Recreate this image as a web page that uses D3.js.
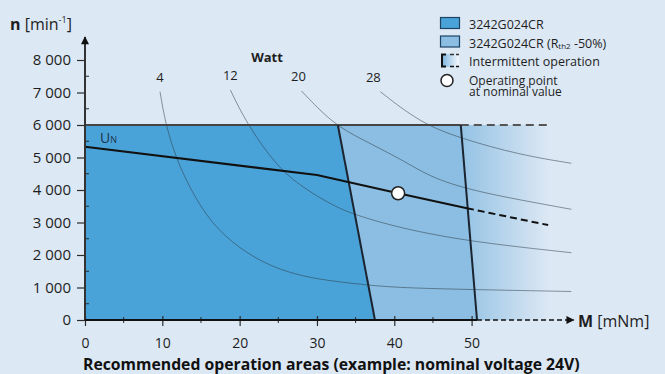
<!DOCTYPE html>
<html lang="en">
<head>
<meta charset="UTF-8">
<title>3242G024CR operation areas</title>
<script src="https://d3js.org/d3.v7.min.js"></script>
<style>
  body { margin: 0; background: #dce8f4; }
  svg { display: block; font-family: "Open Sans", sans-serif; }
</style>
</head>
<body>
<svg></svg>
<script>
var width = 665, height = 374;

// torque M [mNm] vs speed n [min-1]
var xTicks = [0, 10, 20, 30, 40, 50];
var xMinor = [5, 15, 25, 35, 45];
var yTicks = [0, 1000, 2000, 3000, 4000, 5000, 6000, 7000, 8000];
var yMinor = [500, 1500, 2500, 3500, 4500, 5500, 6500, 7500];

var continuousArea = [[0, 0], [0, 6000], [32.7, 6000], [37.5, 0]];
var extendedArea = [[32.7, 6000], [48.6, 6000], [50.7, 0], [37.5, 0]];
var speedLimit = [[0, 6000], [48.6, 6000]];
var speedLimitDashed = [[48.6, 6000], [60, 6000]];
var torqueDashed = [[50.7, 0], [63.2, 0]];

var speedLine = [[0, 5330], [30, 4460], [40.5, 3900], [49.4, 3440]];
var speedLineDashed = [[49.4, 3440], [59.9, 2920]];
var operatingPoint = [40.5, 3900];

// constant power curves
var wattLabels = [4, 12, 20, 28];
var watt4 = [[9.7, 7025], [10.4, 6050], [11.7, 5025], [13.6, 4030], [16.3, 2975], [19.9, 2206],
             [24.0, 1640], [28.3, 1332], [32.2, 1190], [36.4, 1077], [40.8, 990], [50.2, 935], [62.9, 877]];
var watt12 = [[18.8, 7077], [20.9, 6050], [24.8, 4717], [28.3, 4050], [32.1, 3520], [34.7, 3250],
              [40.8, 2822], [49.8, 2409], [62.9, 2071]];
var watt20 = [[28.0, 7046], [32.0, 6050], [35.6, 5580], [41.1, 4923], [44.6, 4400], [49.8, 4000],
              [56.3, 3692], [62.9, 3406]];
var watt28 = [[38.2, 7025], [43.3, 6077], [48.5, 5591], [56.3, 5077], [62.9, 4822]];
var wattCurves = [watt4, watt12, watt20, watt28];

var colors = {
    bg: "#dce8f4",
    dark: "#4aa3d8",
    light: "#8bbee2",
    edge: "#1b2430",
    axis: "#2b2b2b",
    text: "#1e1e1e"
};

var svg = d3.select("svg").attr("width", width).attr("height", height);
svg.append("rect").attr("width", width).attr("height", height).attr("fill", colors.bg);

var x = d3.scaleLinear().domain([0, 50]).range([85, 471.6]);
var y = d3.scaleLinear().domain([0, 6000]).range([320, 125]);

var defs = svg.append("defs");
var grad = defs.append("linearGradient").attr("id", "fade")
    .attr("gradientUnits", "userSpaceOnUse")
    .attr("x1", x(48.5)).attr("x2", x(60)).attr("y1", 0).attr("y2", 0);
grad.append("stop").attr("offset", "0%").attr("stop-color", "#93c2e4");
grad.append("stop").attr("offset", "100%").attr("stop-color", colors.bg);

var iconGrad = defs.append("linearGradient").attr("id", "iconFade");
iconGrad.append("stop").attr("offset", "0%").attr("stop-color", "#7fb6e0");
iconGrad.append("stop").attr("offset", "100%").attr("stop-color", "#f4f8fc");

defs.append("marker").attr("id", "arrow")
    .attr("viewBox", "0 0 10 10").attr("refX", 9).attr("refY", 5)
    .attr("markerWidth", 13).attr("markerHeight", 8).attr("markerUnits", "userSpaceOnUse")
    .attr("orient", "auto")
    .append("path").attr("d", "M0,0 L10,5 L0,10 Z").attr("fill", "#111");

var line = d3.line().x(function (d) { return x(d[0]); }).y(function (d) { return y(d[1]); });

// intermittent fade behind the areas
svg.append("rect")
    .attr("x", x(47)).attr("y", y(6000))
    .attr("width", x(60) - x(47)).attr("height", y(0) - y(6000))
    .attr("fill", "url(#fade)");

svg.append("path").datum(extendedArea).attr("d", line.curve(d3.curveLinearClosed))
    .attr("fill", colors.light);
svg.append("path").datum(continuousArea).attr("d", line)
    .attr("fill", colors.dark);
line.curve(d3.curveLinear);

// power curves
var curveLine = d3.line()
    .x(function (d) { return x(d[0]); })
    .y(function (d) { return y(d[1]); })
    .curve(d3.curveBasis);

svg.selectAll(".watt").data(wattCurves).enter().append("path")
    .attr("class", "watt")
    .attr("d", curveLine)
    .attr("fill", "none")
    .attr("stroke", "#2a3540")
    .attr("stroke-opacity", 0.5)
    .attr("stroke-width", 1);

var labelShift = [0, 0, -3, -7];
svg.selectAll(".wattLabel").data(wattLabels).enter().append("text")
    .attr("class", "wattLabel")
    .attr("x", function (d, i) { return x(wattCurves[i][0][0]) + labelShift[i]; })
    .attr("y", function (d, i) { return y(wattCurves[i][0][1]) - 10; })
    .attr("text-anchor", "middle")
    .attr("font-size", 13)
    .attr("fill", colors.text)
    .text(function (d) { return d; });

svg.append("text").attr("x", 267).attr("y", 62).attr("text-anchor", "middle")
    .attr("font-size", 13).attr("font-weight", "bold").attr("fill", colors.text)
    .text("Watt");

// area edges
svg.append("path").datum(speedLimit).attr("d", line)
    .attr("stroke", "#444").attr("stroke-width", 2).attr("fill", "none");
svg.append("path").datum(speedLimitDashed).attr("d", line)
    .attr("stroke", "#555").attr("stroke-width", 2).attr("stroke-dasharray", "8,5").attr("fill", "none");
svg.append("path").datum([continuousArea[2], continuousArea[3]]).attr("d", line)
    .attr("stroke", colors.edge).attr("stroke-width", 2).attr("fill", "none");
svg.append("path").datum([extendedArea[1], extendedArea[2]]).attr("d", line)
    .attr("stroke", colors.edge).attr("stroke-width", 2).attr("fill", "none");

// speed / torque line
svg.append("path").datum(speedLine).attr("d", line)
    .attr("stroke", "#111").attr("stroke-width", 2).attr("fill", "none");
svg.append("path").datum(speedLineDashed).attr("d", line)
    .attr("stroke", "#111").attr("stroke-width", 2).attr("stroke-dasharray", "7,4").attr("fill", "none");

var un = svg.append("text").attr("x", 100).attr("y", 143)
    .attr("font-size", 14).attr("fill", "#1b3550");
un.append("tspan").text("U");
un.append("tspan").attr("font-size", 9).attr("dy", 0).text("N");

svg.append("circle")
    .attr("cx", x(operatingPoint[0])).attr("cy", y(operatingPoint[1])).attr("r", 6.5)
    .attr("fill", "#fff").attr("stroke", "#222").attr("stroke-width", 1.5);

// axes
var fmt = d3.formatLocale({ decimal: ".", thousands: " ", grouping: [3], currency: ["", ""] }).format(",d");

var yAxis = svg.append("g").attr("transform", "translate(" + x(0) + ",0)")
    .call(d3.axisLeft(y).tickValues(yTicks).tickSize(8).tickPadding(6).tickFormat(fmt));
yAxis.select(".domain").remove();
yAxis.selectAll("line").attr("stroke", colors.axis).attr("stroke-width", 1.2);
yAxis.selectAll("text").attr("font-size", 15).attr("fill", colors.text).attr("font-family", "Open Sans");

svg.selectAll(".yMinor").data(yMinor).enter().append("line")
    .attr("x1", x(0)).attr("x2", x(0) + 4)
    .attr("y1", function (d) { return y(d); }).attr("y2", function (d) { return y(d); })
    .attr("stroke", colors.axis).attr("stroke-width", 1);

var xAxis = svg.append("g").attr("transform", "translate(0," + y(0) + ")")
    .call(d3.axisBottom(x).tickValues(xTicks).tickSize(6).tickPadding(12));
xAxis.select(".domain").remove();
xAxis.selectAll("line").attr("stroke", colors.axis).attr("stroke-width", 1.2).attr("y1", -4);
xAxis.selectAll("text").attr("font-size", 14).attr("fill", colors.text).attr("font-family", "Open Sans");

svg.selectAll(".xMinor").data(xMinor).enter().append("line")
    .attr("x1", function (d) { return x(d); }).attr("x2", function (d) { return x(d); })
    .attr("y1", y(0) - 3).attr("y2", y(0) + 3)
    .attr("stroke", colors.axis).attr("stroke-width", 1);

// axis lines with arrows
svg.append("line").attr("x1", x(0)).attr("x2", x(0)).attr("y1", y(0) + 1).attr("y2", 37)
    .attr("stroke", "#333").attr("stroke-width", 2).attr("marker-end", "url(#arrow)");
svg.append("path").datum([[0, 0], [50.7, 0]]).attr("d", line)
    .attr("stroke", "#111").attr("stroke-width", 2).attr("fill", "none");
svg.append("path").datum(torqueDashed).attr("d", line)
    .attr("stroke", "#111").attr("stroke-width", 1.5).attr("stroke-dasharray", "5,3")
    .attr("fill", "none").attr("marker-end", "url(#arrow)");

// axis titles
var nTitle = svg.append("text").attr("x", 10).attr("y", 30).attr("font-size", 16).attr("fill", colors.text);
nTitle.append("tspan").attr("font-weight", "bold").text("n");
nTitle.append("tspan").text(" [min");
nTitle.append("tspan").attr("font-size", 9).attr("dy", -7).text("-1");
nTitle.append("tspan").attr("dy", 7).text("]");

var mTitle = svg.append("text").attr("x", 578).attr("y", 327).attr("font-size", 16).attr("fill", colors.text);
mTitle.append("tspan").attr("font-weight", "bold").text("M");
mTitle.append("tspan").text(" [mNm]");

// caption
var caption = svg.append("text").attr("x", 83).attr("y", 370)
    .attr("font-size", 14).attr("font-weight", "bold").attr("fill", "#111")
    .text("Recommended operation areas (example: nominal voltage 24V)");
var cw = caption.node().getComputedTextLength();
caption.attr("font-size", 14 * 497 / cw);

// legend
var lg = svg.append("g").attr("font-size", 12.5).attr("fill", colors.text);
lg.append("rect").attr("x", 440.5).attr("y", 17.5).attr("width", 19).attr("height", 11)
    .attr("fill", colors.dark).attr("stroke", "#1d4466").attr("stroke-width", 1.2);
lg.append("text").attr("x", 469).attr("y", 29).text("3242G024CR");
lg.append("rect").attr("x", 440.5).attr("y", 36).attr("width", 19).attr("height", 11)
    .attr("fill", colors.light).attr("stroke", "#1d4466").attr("stroke-width", 1.2);
var l2 = lg.append("text").attr("x", 469).attr("y", 47.5);
l2.append("tspan").text("3242G024CR (R");
l2.append("tspan").attr("font-size", 8).attr("dy", 1).text("th2");
l2.append("tspan").attr("dy", -1).text(" -50%)");

lg.append("rect").attr("x", 442).attr("y", 54).attr("width", 17).attr("height", 13)
    .attr("fill", "url(#iconFade)");
lg.append("path").attr("d", "M446,54.5 H442 V66.5 H446").attr("fill", "none")
    .attr("stroke", "#111").attr("stroke-width", 2);
lg.append("line").attr("x1", 450).attr("x2", 459).attr("y1", 54.5).attr("y2", 54.5)
    .attr("stroke", "#333").attr("stroke-width", 1.5).attr("stroke-dasharray", "4,2");
lg.append("line").attr("x1", 450).attr("x2", 459).attr("y1", 66.5).attr("y2", 66.5)
    .attr("stroke", "#111").attr("stroke-width", 1.5).attr("stroke-dasharray", "4,2");
lg.append("text").attr("x", 469).attr("y", 66).text("Intermittent operation");

lg.append("circle").attr("cx", 447).attr("cy", 80.5).attr("r", 6)
    .attr("fill", "#fff").attr("stroke", "#222").attr("stroke-width", 1.5);
var op = lg.append("text").attr("x", 469).attr("y", 84.5).attr("font-size", 12);
op.append("tspan").attr("x", 469).text("Operating point");
op.append("tspan").attr("x", 469).attr("dy", 11.5).text("at nominal value");
</script>
</body>
</html>
